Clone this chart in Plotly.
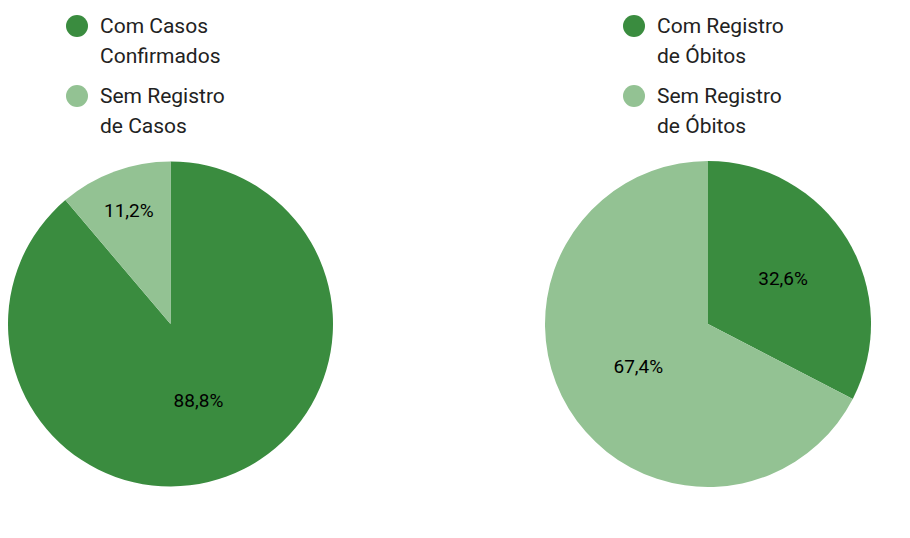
import plotly.graph_objects as go

W, H = 910, 538
OFF = 8  # page body margin
dark = '#3a8c3f'
light = '#93c293'

casos_labels = ['Com Casos Confirmados', 'Sem Registro de Casos']
casos_values = [88.8, 11.2]
casos_text = ['88,8%', '11,2%']

obitos_labels = ['Com Registro de Óbitos', 'Sem Registro de Óbitos']
obitos_values = [32.6, 67.4]
obitos_text = ['32,6%', '67,4%']

legend_left = [['Com Casos', 'Confirmados'], ['Sem Registro', 'de Casos']]
legend_right = [['Com Registro', 'de Óbitos'], ['Sem Registro', 'de Óbitos']]

ydom = [1 - (487 - OFF) / H, 1 - (161 - OFF) / H]

fig = go.Figure()
for vals, labs, txt, xd in [(casos_values, casos_labels, casos_text, [0, 325 / W]),
                             (obitos_values, obitos_labels, obitos_text,
                              [(545 - OFF) / W, (871 - OFF) / W])]:
    fig.add_trace(go.Pie(
        values=vals, labels=labs, text=txt, texttemplate='%{text}',
        textinfo='text', textposition='inside', insidetextorientation='horizontal',
        sort=False, direction='clockwise', rotation=0,
        marker=dict(colors=[dark, light], line=dict(width=0)),
        textfont=dict(family='Roboto', size=19, color='black'),
        domain=dict(x=xd, y=ydom), showlegend=False, hoverinfo='label+text'))

shapes, annots = [], []
for items, cx in [(legend_left, 77 - OFF), (legend_right, 634 - OFF)]:
    for i, lines in enumerate(items):
        cy = 26 - OFF + 70 * i
        shapes.append(dict(type='circle', xref='paper', yref='paper',
                           x0=(cx - 11) / W, x1=(cx + 11) / W,
                           y0=1 - (cy + 11) / H, y1=1 - (cy - 11) / H,
                           fillcolor=[dark, light][i], line=dict(width=0)))
        for j, line in enumerate(lines):
            annots.append(dict(xref='paper', yref='paper', x=(cx + 21) / W,
                               y=1 - (cy + 30 * j) / H,
                               xanchor='left', yanchor='middle', align='left', showarrow=False,
                               text=line, font=dict(family='Roboto', size=21, color='#222')))

fig.update_layout(width=W, height=H, margin=dict(l=0, r=0, t=0, b=0),
                  paper_bgcolor='white', shapes=shapes, annotations=annots)
fig.write_html('out.html')
